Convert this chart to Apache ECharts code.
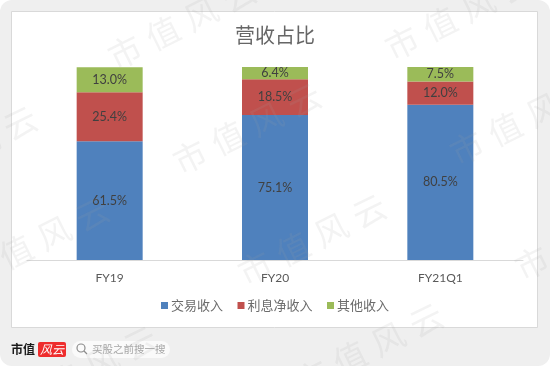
<!DOCTYPE html>
<html><head><meta charset="utf-8">
<style>html,body{margin:0;padding:0;background:#fff}#c{width:550px;height:366px}</style>
<script src="https://cdn.jsdelivr.net/npm/echarts@6/dist/echarts.min.js"></script>
</head><body><div id="c"></div>
<script>
const categories = ['FY19','FY20','FY21Q1'];
const tradeRevenue = [61.5,75.1,80.5];
const interestRevenue = [25.4,18.5,12.0];
const otherRevenue = [13.0,6.4,7.5];
const seriesNames = ['交易收入','利息净收入','其他收入'];
const seriesColors = ['#4f81bd','#c0504d','#9bbb59'];
const titleText = '营收占比';
const watermarkChars = ['市','值','风','云'];
const watermarkOrigins = [[-22,271],[190,157],[402,43],[255,268],[467,148],[125,52],[337,-62],[-94,180],[26,400],[312,377],[532,263]];

const cjk = '"Noto Sans CJK SC","Noto Sans",sans-serif';
const latin = 'Lato,"Open Sans",sans-serif';
const chart = echarts.init(document.getElementById('c'),null,{renderer:'canvas'});
const marks = [
 {type:'rect',z:-20,silent:true,shape:{x:0,y:0,width:550,height:366,r:12},style:{fill:'#efefef'}},
 {type:'rect',z:-19,silent:true,shape:{x:11.5,y:11.5,width:526,height:316},style:{fill:'#fff',stroke:'#d9d9d9',lineWidth:1}},
 {type:'text',z:5,silent:true,x:11,y:349.5,style:{text:'市值',fill:'#1a1a1a',font:'bold 12px "Noto Sans CJK SC",serif',verticalAlign:'middle'}},
 {type:'rect',z:5,silent:true,shape:{x:38,y:342,width:28,height:15,r:2},style:{fill:'#ee2d2d'}},
 {type:'text',z:6,silent:true,x:52,y:349.5,style:{text:'风云',fill:'#fff',font:'italic 12px '+cjk,align:'center',verticalAlign:'middle'}},
 {type:'rect',z:5,silent:true,shape:{x:72,y:341,width:98,height:17,r:8.5},style:{fill:'#fafafa'}},
 {type:'circle',z:6,silent:true,shape:{cx:81,cy:348,r:4},style:{fill:'none',stroke:'#8c8c8c',lineWidth:1.2}},
 {type:'line',z:6,silent:true,shape:{x1:84,y1:351,x2:87,y2:354},style:{stroke:'#8c8c8c',lineWidth:1.2}},
 {type:'text',z:6,silent:true,x:92,y:349.5,style:{text:'买股之前搜一搜',fill:'#a6a6a6',font:'10.5px '+cjk,verticalAlign:'middle'}}
];
watermarkOrigins.forEach(o=>watermarkChars.forEach((ch,i)=>{
  marks.push({type:'text',z:100,silent:true,x:o[0]+i*38,y:o[1]-i*19,rotation:0.46,
    style:{text:ch,fill:'rgba(165,165,165,0.13)',font:'33px '+cjk,align:'center',verticalAlign:'middle'}});
}));
const values=[tradeRevenue,interestRevenue,otherRevenue];
chart.setOption({
 animation:false,
 backgroundColor:'transparent',
 title:{text:titleText,left:'center',top:20,textStyle:{fontFamily:cjk,fontSize:20,fontWeight:'normal',color:'#666'}},
 grid:{left:27,right:27,top:67,bottom:106},
 legend:{data:seriesNames,left:156,top:294,itemWidth:7,itemHeight:7,itemGap:14.5,icon:'rect',
   textStyle:{fontFamily:cjk,fontSize:13,color:'#6b6b6b',padding:[0,0,0,-2]}},
 xAxis:{type:'category',data:categories,axisTick:{show:false},
   axisLine:{lineStyle:{color:'#d9d9d9',width:1}},
   axisLabel:{fontFamily:latin,fontSize:12,color:'#595959',margin:12}},
 yAxis:{type:'value',min:0,max:100,show:false},
 series:seriesNames.map((n,i)=>({name:n,type:'bar',stack:'s',data:values[i],barWidth:66,
   itemStyle:{color:seriesColors[i]},
   label:{show:true,position:'inside',formatter:p=>p.value.toFixed(1)+'%',fontFamily:latin,fontSize:12.5,color:'#404040'}})),
 graphic:{elements:marks}
});
</script></body></html>
